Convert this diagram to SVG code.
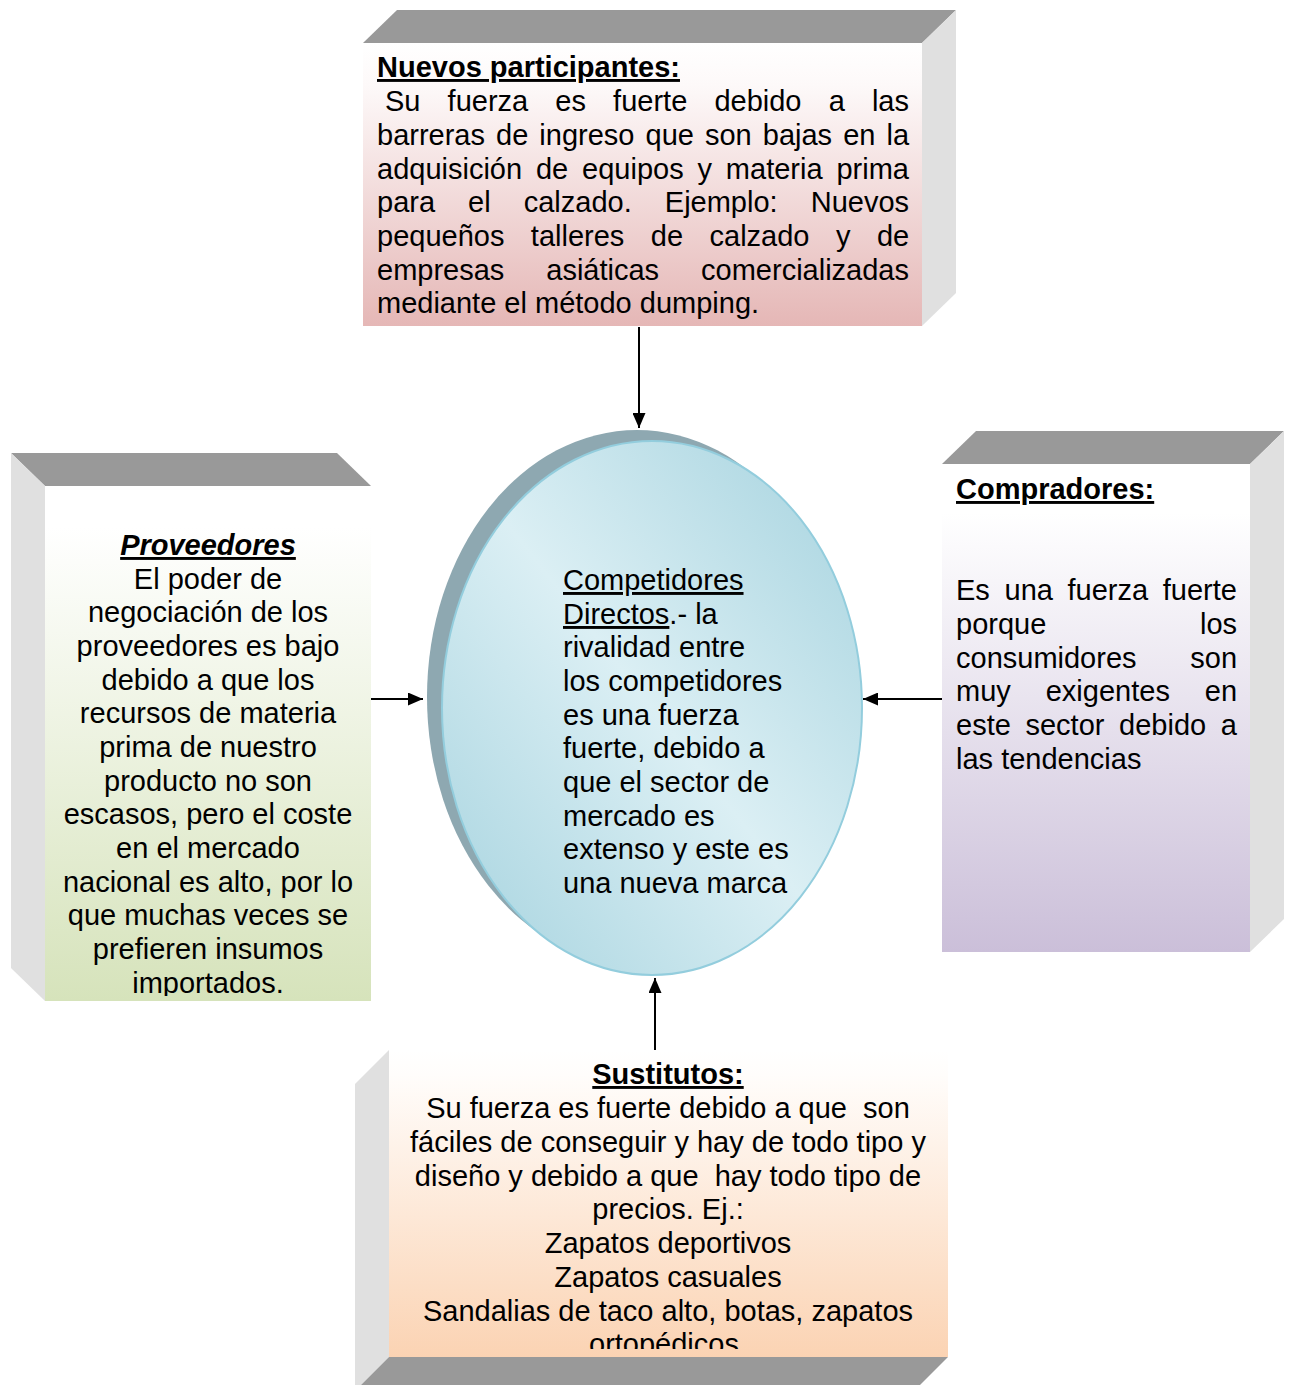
<svg xmlns="http://www.w3.org/2000/svg" width="1291" height="1385" viewBox="0 0 1291 1385">
<style>
text{font-family:"Liberation Sans",Arial,sans-serif;font-size:29px;fill:#000;font-kerning:none;font-variant-ligatures:none}
.b{font-weight:bold}
.u{text-decoration:underline}
.pre{white-space:pre}
.side{fill:#e0e0e0}
.bev{fill:#999999}
.conn{stroke:#000;stroke-width:2;fill:none}
</style>
<defs>
<linearGradient id="gTop" x1="0" y1="0" x2="0" y2="1"><stop offset="0" stop-color="#ffffff"/><stop offset="0.15" stop-color="#fdf9f9"/><stop offset="1" stop-color="#e5b7b6"/></linearGradient>
<linearGradient id="gLeft" x1="0" y1="0" x2="0" y2="1"><stop offset="0" stop-color="#ffffff"/><stop offset="0.08" stop-color="#ffffff"/><stop offset="1" stop-color="#d6e3bb"/></linearGradient>
<linearGradient id="gRight" x1="0" y1="0" x2="0" y2="1"><stop offset="0" stop-color="#ffffff"/><stop offset="0.1" stop-color="#ffffff"/><stop offset="1" stop-color="#cbbfd9"/></linearGradient>
<linearGradient id="gBot" x1="0" y1="0" x2="0" y2="1"><stop offset="0" stop-color="#ffffff"/><stop offset="0.08" stop-color="#fffdfb"/><stop offset="1" stop-color="#fbd3b3"/></linearGradient>
<linearGradient id="gEll" x1="0" y1="1" x2="1" y2="0"><stop offset="0" stop-color="#a4d2de"/><stop offset="0.5" stop-color="#dbeff4"/><stop offset="1" stop-color="#a4d2de"/></linearGradient>
<marker id="arr" markerUnits="userSpaceOnUse" markerWidth="15" markerHeight="13" refX="15" refY="6.5" orient="auto"><path d="M0,0 L15,6.5 L0,13 z" fill="#000"/></marker>
<clipPath id="clipLeft"><rect x="45" y="486" width="326" height="510"/></clipPath>
<clipPath id="clipBot"><rect x="389" y="1050" width="559" height="299"/></clipPath>
</defs>

<g id="connectors">
<line class="conn" x1="639" y1="327" x2="639" y2="428" marker-end="url(#arr)"/>
<line class="conn" x1="371" y1="699" x2="423" y2="699" marker-end="url(#arr)"/>
<line class="conn" x1="942" y1="699" x2="863" y2="699" marker-end="url(#arr)"/>
<line class="conn" x1="655" y1="1055" x2="655" y2="978" marker-end="url(#arr)"/>
</g>

<g id="nuevos-participantes">
<polygon class="bev" points="363,43 397,10 956,10 922,43"/>
<polygon class="side" points="922,43 956,10 956,293 922,326"/>
<rect x="363" y="43" width="559" height="283" fill="url(#gTop)"/>
<text x="377" y="77" class="b u">Nuevos participantes:</text>
<text x="385" y="111" style="word-spacing:19.08px">Su fuerza es fuerte debido a las</text>
<text x="377" y="145" style="word-spacing:3px">barreras de ingreso que son bajas en la</text>
<text x="377" y="179" style="word-spacing:5.8px">adquisición de equipos y materia prima</text>
<text x="377" y="212" style="word-spacing:25px">para el calzado. Ejemplo: Nuevos</text>
<text x="377" y="246" style="word-spacing:18.4px">pequeños talleres de calzado y de</text>
<text x="377" y="280" style="word-spacing:33.9px">empresas asiáticas comercializadas</text>
<text x="377" y="313">mediante el método dumping.</text>
</g>

<g id="proveedores">
<polygon class="bev" points="11,453 337,453 371,486 45,486"/>
<polygon class="side" points="11,453 45,486 45,1001 11,968"/>
<rect x="45" y="486" width="326" height="515" fill="url(#gLeft)"/>
<g clip-path="url(#clipLeft)" text-anchor="middle">
<text x="208" y="555" class="b u" font-style="italic">Proveedores</text>
<text x="208" y="589">El poder de</text>
<text x="208" y="622">negociación de los</text>
<text x="208" y="656">proveedores es bajo</text>
<text x="208" y="690">debido a que los</text>
<text x="208" y="723">recursos de materia</text>
<text x="208" y="757">prima de nuestro</text>
<text x="208" y="791">producto no son</text>
<text x="208" y="824">escasos, pero el coste</text>
<text x="208" y="858">en el mercado</text>
<text x="208" y="892">nacional es alto, por lo</text>
<text x="208" y="925">que muchas veces se</text>
<text x="208" y="959">prefieren insumos</text>
<text x="208" y="993">importados.</text>
</g>
</g>

<g id="compradores">
<polygon class="bev" points="942,464 976,431 1284,431 1250,464"/>
<polygon class="side" points="1250,464 1284,431 1284,919 1250,952"/>
<rect x="942" y="464" width="308" height="488" fill="url(#gRight)"/>
<text x="956" y="499" class="b u">Compradores:</text>
<text x="956" y="600" style="word-spacing:6.6px">Es una fuerza fuerte</text>
<text x="956" y="634" style="word-spacing:145.6px">porque los</text>
<text x="956" y="668" style="word-spacing:45.7px">consumidores son</text>
<text x="956" y="701" style="word-spacing:26.9px">muy exigentes en</text>
<text x="956" y="735" style="word-spacing:6.6px">este sector debido a</text>
<text x="956" y="769">las tendencias</text>
</g>

<g id="competidores">
<ellipse cx="637" cy="697" rx="210" ry="267" fill="#8ea8b1"/>
<ellipse cx="652" cy="708" rx="210" ry="267" fill="url(#gEll)" stroke="#93cddd" stroke-width="2"/>
<text x="563" y="590"><tspan class="u">Competidores</tspan></text>
<text x="563" y="624"><tspan class="u">Directos</tspan>.- la</text>
<text x="563" y="657">rivalidad entre</text>
<text x="563" y="691">los competidores</text>
<text x="563" y="725">es una fuerza</text>
<text x="563" y="758">fuerte, debido a</text>
<text x="563" y="792">que el sector de</text>
<text x="563" y="826">mercado es</text>
<text x="563" y="859">extenso y este es</text>
<text x="563" y="893">una nueva marca</text>
</g>

<g id="sustitutos">
<polygon class="side" points="355,1084 389,1050 389,1357 355,1391"/>
<polygon class="bev" points="389,1357 948,1357 914,1391 355,1391"/>
<rect x="389" y="1050" width="559" height="307" fill="url(#gBot)"/>
<g clip-path="url(#clipBot)" text-anchor="middle">
<text x="668" y="1084" class="b u">Sustitutos:</text>
<text x="668" y="1118" class="pre">Su fuerza es fuerte debido a que  son</text>
<text x="668" y="1152">fáciles de conseguir y hay de todo tipo y</text>
<text x="668" y="1186" class="pre">diseño y debido a que  hay todo tipo de</text>
<text x="668" y="1219">precios. Ej.:</text>
<text x="668" y="1253">Zapatos deportivos</text>
<text x="668" y="1287">Zapatos casuales</text>
<text x="668" y="1321">Sandalias de taco alto, botas, zapatos</text>
<text x="668" y="1354">ortopédicos.</text>
</g>
</g>
</svg>
